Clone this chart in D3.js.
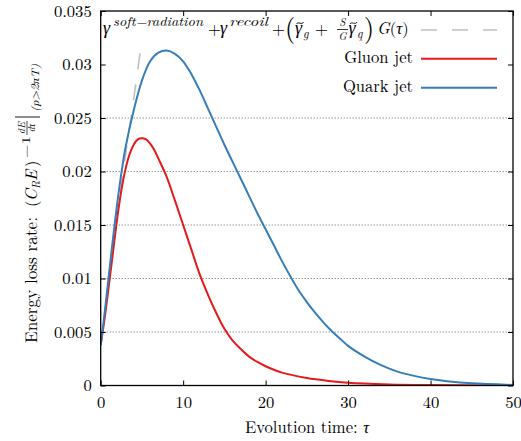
<!DOCTYPE html>
<html>
<head>
<meta charset="utf-8">
<script src="https://cdn.jsdelivr.net/npm/d3@7"></script>
<style>
  html, body { margin: 0; padding: 0; background: #fff; }
</style>
</head>
<body>
<svg id="chart" width="521" height="441"></svg>
<script>
// ---- data ----
const quarkTau = [0, 0.5, 1, 1.5, 2, 2.5, 3, 4, 5, 6, 7, 8, 9, 10, 11, 12, 13, 14, 15, 16, 17, 18, 19, 20, 21, 22, 23, 24, 25, 26, 27, 28, 29, 30, 32, 34, 36, 38, 40, 42, 45, 50];
const quarkVal = [0.0038, 0.0069, 0.0104, 0.0138, 0.0170, 0.0198, 0.0222, 0.0257, 0.0285, 0.0303, 0.0311, 0.0313, 0.0310, 0.0303, 0.0291, 0.0276, 0.0259, 0.0242, 0.0225, 0.0209, 0.0193, 0.0177, 0.0161, 0.0146, 0.0131, 0.0116, 0.0102, 0.0089, 0.0078, 0.0068, 0.0059, 0.0051, 0.0044, 0.0037, 0.0027, 0.0019, 0.0013, 0.0009, 0.0006, 0.0004, 0.0002, 0.00005];
const gluonTau = [0, 0.5, 1, 1.5, 2, 2.5, 3, 3.5, 4, 4.5, 5, 5.5, 6, 6.5, 7, 8, 9, 10, 11, 12, 13, 14, 15, 16, 17, 18, 19, 20, 22, 25, 28, 30, 35, 40, 50];
const gluonVal = [0.0038, 0.0064, 0.0094, 0.0125, 0.0156, 0.0182, 0.0202, 0.0216, 0.0225, 0.0230, 0.0231, 0.0230, 0.0226, 0.0220, 0.0212, 0.0195, 0.0173, 0.0150, 0.0127, 0.0104, 0.0085, 0.0068, 0.0053, 0.0042, 0.0034, 0.0027, 0.0022, 0.0018, 0.0012, 0.0007, 0.0004, 0.00025, 0.0001, 0.00004, 0.0];
const approxTau = [0, 1, 2, 3, 4, 4.9];
const approxVal = [0.0037, 0.0100, 0.0160, 0.0215, 0.0268, 0.0318];
const xTicks = [0, 10, 20, 30, 40, 50];
const xTickLabels = ["0", "10", "20", "30", "40", "50"];
const yTicks = [0, 0.005, 0.01, 0.015, 0.02, 0.025, 0.03, 0.035];
const yTickLabels = ["0", "0.005", "0.01", "0.015", "0.02", "0.025", "0.03", "0.035"];
const gridVals = [0.005, 0.01, 0.015, 0.02, 0.025];
const legendLabels = ["Gluon jet", "Quark jet"];

// ---- layout ----
const FONT = "'Latin Modern Roman', 'Liberation Serif', serif";
const FS = 16.6;
const L = 100.7, R = 513, T = 11, B = 385.5;
const svg = d3.select("#chart");
const x = d3.scaleLinear().domain([0, 50]).range([L, R]);
const y = d3.scaleLinear().domain([0, 0.035]).range([B, T]);

const red = "#e41a1c", blue = "#377eb8", grey = "#c0c0c0";

// grid
svg.append("g").selectAll("line").data(gridVals).join("line")
  .attr("x1", L).attr("x2", R)
  .attr("y1", d => y(d)).attr("y2", d => y(d))
  .attr("stroke", "#555").attr("stroke-width", 0.9).attr("stroke-dasharray", "1,2");

svg.append("clipPath").attr("id", "clip").append("rect")
  .attr("x", L).attr("y", T).attr("width", R - L).attr("height", B - T);

const line = d3.line().x(d => x(d[0])).y(d => y(d[1])).curve(d3.curveCatmullRom.alpha(0.5));
const plot = svg.append("g").attr("clip-path", "url(#clip)");
plot.append("path").datum(approxTau.map((t, i) => [t, approxVal[i]]))
  .attr("d", line).attr("fill", "none").attr("stroke", grey).attr("stroke-width", 1.6)
  .attr("stroke-dasharray", "16,15");
plot.append("path").datum(gluonTau.map((t, i) => [t, gluonVal[i]]))
  .attr("d", line).attr("fill", "none").attr("stroke", red).attr("stroke-width", 2);
plot.append("path").datum(quarkTau.map((t, i) => [t, quarkVal[i]]))
  .attr("d", line).attr("fill", "none").attr("stroke", blue).attr("stroke-width", 2);

// axes
function styleAxis(g) {
  g.select(".domain").remove();
  g.selectAll(".tick line").attr("stroke", "#000").attr("stroke-width", 1);
  g.selectAll(".tick text").style("font-family", FONT).style("font-size", FS + "px").attr("fill", "#000");
}
svg.append("g").attr("transform", `translate(0,${B})`)
  .call(d3.axisBottom(x).tickValues(xTicks).tickFormat((d, i) => xTickLabels[i]).tickSizeInner(-5).tickSizeOuter(0).tickPadding(11))
  .call(styleAxis);
svg.append("g").attr("transform", `translate(0,${T})`)
  .call(d3.axisTop(x).tickValues(xTicks).tickFormat("").tickSizeInner(-5).tickSizeOuter(0))
  .call(styleAxis);
svg.append("g").attr("transform", `translate(${L},0)`)
  .call(d3.axisLeft(y).tickValues(yTicks).tickFormat((d, i) => yTickLabels[i]).tickSizeInner(-5).tickSizeOuter(0).tickPadding(9))
  .call(styleAxis);
svg.append("g").attr("transform", `translate(${R},0)`)
  .call(d3.axisRight(y).tickValues(yTicks).tickFormat("").tickSizeInner(-5).tickSizeOuter(0))
  .call(styleAxis);

// frame
svg.append("rect").attr("x", L).attr("y", T).attr("width", R - L).attr("height", B - T)
  .attr("fill", "none").attr("stroke", "#000").attr("stroke-width", 1.3);

function mk(parent, xp, yp, s, size, italic, opts) {
  const e = parent.append("text").attr("x", xp).attr("y", yp)
    .style("font-family", FONT).style("font-size", size + "px").attr("fill", "#000").text(s);
  if (italic) e.style("font-style", "italic");
  if (opts && opts.len) e.attr("textLength", opts.len).attr("lengthAdjust", "spacingAndGlyphs");
  if (opts && opts.anchor) e.attr("text-anchor", opts.anchor);
  return e;
}
function tilde(parent, cx, cy, w) {
  parent.append("path")
    .attr("d", `M${cx - w / 2},${cy + 1} C${cx - w / 4},${cy - 2} ${cx + w / 4},${cy + 2.5} ${cx + w / 2},${cy - 1}`)
    .attr("fill", "none").attr("stroke", "#000").attr("stroke-width", 0.9);
}

// x label
const xl = svg.append("text").attr("x", 307).attr("y", 433).attr("text-anchor", "middle")
  .style("font-family", FONT).style("font-size", FS + "px").attr("fill", "#000");
xl.append("tspan").text("Evolution time: ");
xl.append("tspan").style("font-style", "italic").text("τ");

// legend formula
const F = svg.append("g");
mk(F, 103, 34, "γ", 18, true);
mk(F, 113, 26, "soft−radiation", 12, true, {len: 90});
mk(F, 208, 35, "+", FS, false);
mk(F, 220, 34, "γ", 18, true);
mk(F, 229, 26, "recoil", 12, true, {len: 39});
mk(F, 272, 35, "+", FS, false);
mk(F, 285, 37, "(", 26, false);
mk(F, 295, 34, "γ", 18, true);
tilde(F, 300, 23, 7);
mk(F, 303, 38, "g", 12, true);
mk(F, 315, 35, "+", FS, false);
mk(F, 342.5, 26, "S", 10.5, true, {anchor: "middle"});
F.append("line").attr("x1", 337).attr("x2", 348).attr("y1", 29.5).attr("y2", 29.5).attr("stroke", "#000").attr("stroke-width", 0.8);
mk(F, 342.5, 40, "G", 10.5, true, {anchor: "middle"});
mk(F, 348.5, 34, "γ", 18, true);
tilde(F, 353.5, 23, 7);
mk(F, 357, 38, "q", 12, true);
mk(F, 364, 37, ")", 26, false);
const gt = F.append("text").attr("x", 377).attr("y", 34)
  .style("font-family", FONT).style("font-size", FS + "px").attr("fill", "#000");
gt.append("tspan").style("font-style", "italic").text("G");
gt.append("tspan").text("(");
gt.append("tspan").style("font-style", "italic").text("τ");
gt.append("tspan").text(")");
svg.append("line").attr("x1", 421).attr("x2", 497).attr("y1", 30).attr("y2", 30)
  .attr("stroke", grey).attr("stroke-width", 1.6).attr("stroke-dasharray", "16,15");

// legend entries
const legColors = [red, blue];
const legY = [58.7, 87.7];
legendLabels.forEach((lab, i) => {
  mk(svg, 413, legY[i] + 4.5, lab, FS, false, {anchor: "end"});
  svg.append("line").attr("x1", 421).attr("x2", 497).attr("y1", legY[i]).attr("y2", legY[i])
    .attr("stroke", legColors[i]).attr("stroke-width", 2);
});

// y label (rotated)
const Y = svg.append("g").attr("transform", "translate(37,343) rotate(-90)");
mk(Y, 0, 0, "Energy loss rate:", FS, false, {len: 126});
mk(Y, 136, 0, "(", FS, false);
mk(Y, 142, 0, "C", FS, true);
mk(Y, 154, 3, "R", 11, true);
mk(Y, 162, 0, "E", FS, true);
mk(Y, 176, 0, ")", FS, false);
mk(Y, 185, -7, "−1", 11.5, false, {len: 22});
mk(Y, 215, -12, "dE", 10, true, {anchor: "middle"});
Y.append("line").attr("x1", 208).attr("x2", 222).attr("y1", -10).attr("y2", -10).attr("stroke", "#000").attr("stroke-width", 0.7);
mk(Y, 215, -2.5, "dτ", 10, true, {anchor: "middle"});
Y.append("line").attr("x1", 226).attr("x2", 226).attr("y1", -22).attr("y2", 3).attr("stroke", "#000").attr("stroke-width", 0.9);
mk(Y, 231, 2, "(p>2πT)", 11, true, {len: 48});
</script>
</body>
</html>
